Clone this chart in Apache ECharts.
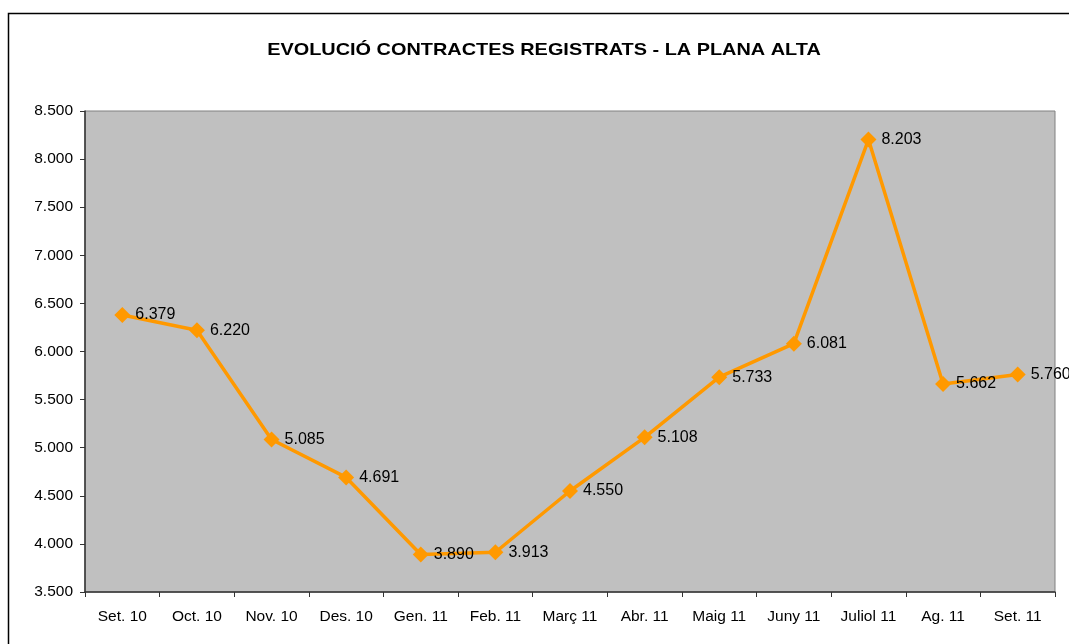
<!DOCTYPE html>
<html>
<head>
<meta charset="utf-8">
<script src="https://cdn.jsdelivr.net/npm/echarts@6/dist/echarts.min.js"></script>
<style>
  html, body { margin: 0; padding: 0; background: #fff; }
  #chart { width: 1069px; height: 644px; }
</style>
</head>
<body>
<div id="chart"></div>
<script>
// dades
const mesos = ['Set. 10', 'Oct. 10', 'Nov. 10', 'Des. 10', 'Gen. 11', 'Feb. 11', 'Març 11', 'Abr. 11', 'Maig 11', 'Juny 11', 'Juliol 11', 'Ag. 11', 'Set. 11']
const contractes = [6379, 6220, 5085, 4691, 3890, 3913, 4550, 5108, 5733, 6081, 8203, 5662, 5760]
const eixY = { min: 3500, max: 8500, interval: 500 }
const titol = 'EVOLUCIÓ CONTRACTES REGISTRATS - LA PLANA ALTA'

// format amb punt de milers
function fmt(v) {
  return String(v).replace(/\B(?=(\d{3})+(?!\d))/g, '.')
}

let chart = echarts.init(document.getElementById('chart'))
let font = 'Liberation Sans, Arial, sans-serif'

let option = {
  animation: false,
  textStyle: { fontFamily: font },
  graphic: [
    {
      type: 'rect',
      shape: { x: 8.5, y: 13.5, width: 1080, height: 660 },
      style: { fill: 'none', stroke: '#000', lineWidth: 1.5 },
      silent: true
    },
    {
      // titol, una mica eixamplat com l'original
      type: 'text',
      x: 544,
      y: 50,
      scaleX: 1.17,
      style: {
        text: titol,
        fontFamily: font,
        fontSize: 17,
        fontWeight: 'bold',
        fill: '#000',
        textAlign: 'center',
        textVerticalAlign: 'middle'
      },
      silent: true
    }
  ],
  grid: {
    left: 85,
    top: 111,
    width: 970,
    height: 481,
    show: true,
    backgroundColor: '#c0c0c0',
    borderColor: '#808080',
    borderWidth: 1
  },
  xAxis: {
    type: 'category',
    data: mesos,
    boundaryGap: true,
    axisLine: { lineStyle: { color: '#333', width: 1.5 } },
    axisTick: { show: true, length: 5, lineStyle: { color: '#333' } },
    axisLabel: { color: '#000', fontSize: 15.5, margin: 17, interval: 0 },
    splitLine: { show: false }
  },
  yAxis: {
    type: 'value',
    min: eixY.min,
    max: eixY.max,
    interval: eixY.interval,
    axisLine: { show: true, lineStyle: { color: '#333', width: 1.5 } },
    axisTick: { show: true, length: 5, lineStyle: { color: '#333' } },
    axisLabel: { color: '#000', fontSize: 15.5, margin: 12, formatter: fmt },
    splitLine: { show: false }
  },
  series: [
    {
      type: 'line',
      data: contractes,
      symbol: 'diamond',
      symbolSize: 16,
      lineStyle: { color: '#ff9900', width: 3.5 },
      itemStyle: { color: '#ff9900' },
      label: {
        show: true,
        position: 'right',
        distance: 5,
        color: '#000',
        fontSize: 16,
        formatter: p => fmt(p.value)
      }
    }
  ]
}

chart.setOption(option)
</script>
</body>
</html>
